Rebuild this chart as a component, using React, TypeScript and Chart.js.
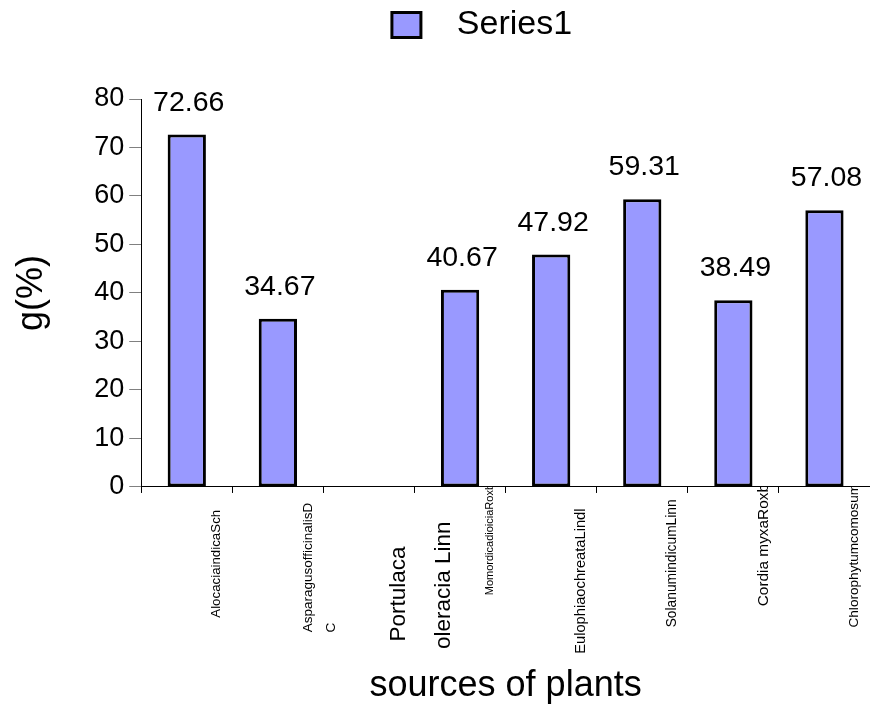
import React, { useEffect, useRef } from 'react';
import { Chart, registerables } from 'chart.js';

Chart.register(...registerables);

// ---- data ----
const categories: (string | string[])[] = [
  'AlocaciaindicaSch',
  ['AsparagusofficinalisD', 'C'],
  ['Portulaca', 'oleracia Linn'],
  'MomordicadioiciaRoxb',
  'EulophiaochreataLindl',
  'SolanumindicumLinn',
  'Cordia myxaRoxb',
  'Chlorophytumcomosum',
];
const seriesName = 'Series1';
const values: (number | null)[] = [72.66, 34.67, null, 40.67, 47.92, 59.31, 38.49, 57.08];
const yTicks = { min: 0, max: 80, step: 10 };
const xTitle = 'sources of plants';
const yTitle = 'g(%)';

// ---- label styling (font size, line height, trailing space count per line) ----
const labelFontSize = [13.3, 13.5, 22.5, 11, 14.7, 13.8, 15.4, 13.6];
const labelLineHeight = [1.2, 1.7, 2.0, 1.2, 1.2, 1.2, 1.2, 1.2];
const labelTrail: number[][] = [[7], [5, 37], [10, 6], [0], [6], [4], [0], [0]];

const FAMILY = '"Liberation Sans", Arial, sans-serif';

const pad = (s: string, n: number) => s + ' '.repeat(n);
const tickLabels = categories.map((c, i) =>
  Array.isArray(c) ? c.map((l, j) => pad(l, labelTrail[i][j] || 0)) : pad(c, labelTrail[i][0] || 0)
);

const valueLabels = {
  id: 'valueLabels',
  afterDatasetsDraw(chart: any) {
    const { ctx } = chart;
    const meta = chart.getDatasetMeta(0);
    ctx.save();
    ctx.font = `28.5px ${FAMILY}`;
    ctx.fillStyle = '#000';
    ctx.textAlign = 'center';
    ctx.textBaseline = 'alphabetic';
    meta.data.forEach((bar: any, i: number) => {
      const v = values[i];
      if (v == null) return;
      ctx.fillText(v.toFixed(2), bar.x + 2, bar.y - 24);
    });
    ctx.restore();
  },
};

const legendGap = {
  id: 'legendGap',
  beforeInit(chart: any) {
    const legend = chart.legend;
    if (!legend) return;
    const origFit = legend.fit;
    legend.fit = function () {
      origFit.call(this);
      this.height += 47;
    };
  },
};

export default function App() {
  const ref = useRef<HTMLCanvasElement>(null);
  useEffect(() => {
    if (!ref.current) return;
    Chart.defaults.font.family = FAMILY;
    Chart.defaults.color = '#000';
    const chart = new Chart(ref.current, {
      type: 'bar',
      data: {
        labels: tickLabels,
        datasets: [
          {
            label: seriesName,
            data: values,
            backgroundColor: '#9999FF',
            borderColor: '#000000',
            borderWidth: 3,
            borderSkipped: false,
            categoryPercentage: 1,
            barPercentage: 0.42,
          },
        ],
      },
      options: {
        responsive: false,
        animation: false,
        layout: { padding: { left: 0, right: 0, top: 0, bottom: 0 } },
        plugins: {
          tooltip: { enabled: false },
          legend: {
            display: true,
            position: 'top',
            fullSize: false,
            labels: {
              boxWidth: 29,
              boxHeight: 25,
              padding: 8,
              color: '#000',
              font: { size: 34, family: FAMILY },
              generateLabels(chart: any) {
                const items = Chart.defaults.plugins.legend.labels.generateLabels(chart);
                return items.map((it: any) => ({ ...it, text: '  ' + it.text + '     ', lineWidth: 3, strokeStyle: '#000' }));
              },
            },
          },
        },
        scales: {
          x: {
            offset: true,
            grid: {
              display: true,
              offset: true,
              drawOnChartArea: false,
              drawTicks: true,
              tickLength: 6,
              color: '#000',
            },
            border: { display: true, color: '#000', width: 1 },
            ticks: {
              autoSkip: false,
              maxRotation: 90,
              minRotation: 90,
              padding: -9,
              labelOffset: 30,
              color: '#000',
              font: (ctx: any) => ({
                size: labelFontSize[ctx.index] ?? 13,
                lineHeight: labelLineHeight[ctx.index] ?? 1.2,
                family: FAMILY,
              }),
            },
            title: {
              display: true,
              text: xTitle,
              color: '#000',
              font: { size: 36, family: FAMILY },
              padding: { top: 20, bottom: 0 },
            },
          },
          y: {
            min: yTicks.min,
            max: yTicks.max,
            grid: {
              display: true,
              drawOnChartArea: false,
              drawTicks: true,
              tickLength: 12,
              color: '#808080',
            },
            border: { display: true, color: '#000', width: 1 },
            ticks: {
              stepSize: yTicks.step,
              padding: 5,
              color: '#000',
              font: { size: 27, family: FAMILY },
            },
            title: {
              display: true,
              text: yTitle,
              color: '#000',
              font: { size: 36, family: FAMILY },
              padding: { top: 10, bottom: 36 },
            },
          },
        },
      },
      plugins: [valueLabels, legendGap],
    } as any);
    return () => chart.destroy();
  }, []);
  return (
    <div style={{ position: 'absolute', left: 0, top: 0, width: 870, height: 708, background: '#fff' }}>
      <canvas ref={ref} width={870} height={708} style={{ display: 'block' }} />
    </div>
  );
}
